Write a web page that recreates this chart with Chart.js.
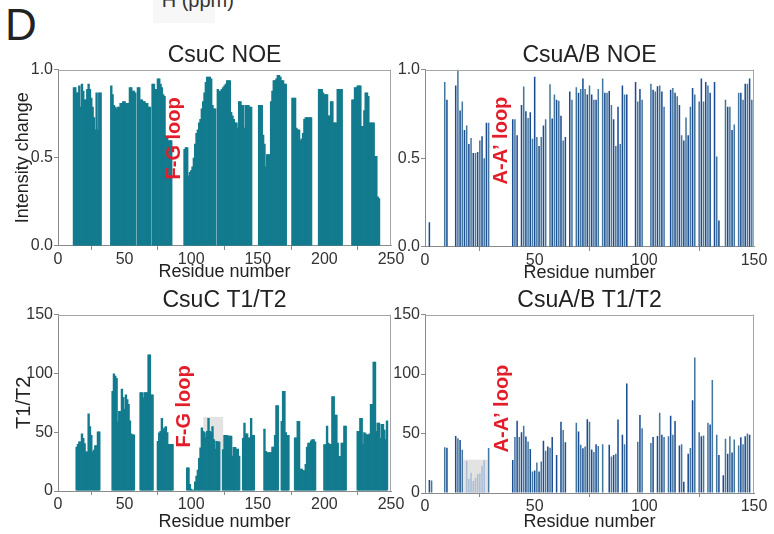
<!DOCTYPE html>
<html>
<head>
<meta charset="utf-8">
<script src="https://cdn.jsdelivr.net/npm/chart.js@4.4.1/dist/chart.umd.min.js"></script>
<style>
  body { margin: 0; background: #fff; width: 774px; height: 534px; overflow: hidden; position: relative;
         font-family: "Liberation Sans", Arial, sans-serif; }
  canvas { position: absolute; left: 0; top: 0; }
  #letter { position: absolute; left: 5px; top: 3px; font-size: 44px; line-height: 44px; color: #222; }
  #ppm { position: absolute; left: 155px; top: -15px; font-size: 20px; line-height: 20px; color: #333; }
  #ppmbg { position: absolute; left: 153px; top: 0; width: 62px; height: 23px; background: #f7f7f7; }
</style>
</head>
<body>
<div id="ppmbg"></div>
<div id="ppm"><sup style="font-size:12px">1</sup>H (ppm)</div>
<div id="letter">D</div>
<canvas id="csucNoeChart" width="774" height="534"></canvas>
<canvas id="csuabNoeChart" width="774" height="534"></canvas>
<canvas id="csucT1T2Chart" width="774" height="534"></canvas>
<canvas id="csuabT1T2Chart" width="774" height="534"></canvas>
<script>
// NMR relaxation bar panels: NOE intensity change and T1/T2 per residue

const FONT = '"Liberation Sans", Arial, sans-serif';

// CsuC heteronuclear NOE, residues 12..241 (null = not assigned)
const csucNoeStart = 12;
const csucNoe = [
  0.90, 0.90, 0.87, 0.87, 0.91, 0.79, 0.92, 0.88, 0.83, 0.83,   // 12
  0.89, 0.92, 0.89, 0.84, 0.79, 0.73, 0.66, 0.87, 0.66, 0.87,   // 22
  0.87, null, null, null, null, null, null, null, 0.91, 0.86,   // 32
  0.80, 0.79, 0.78, 0.79, 0.79, 0.81, 0.81, 0.82, 0.82, 0.81,   // 42
  0.81, 0.81, 0.90, 0.90, 0.88, 0.88, 0.87, null, 0.90, 0.90,   // 52
  0.83, 0.83, 0.82, 0.82, 0.81, 0.81, 0.79, 0.79, null, 0.92,   // 62
  0.92, 0.89, 0.89, 0.95, 0.95, 0.92, 0.90, 0.86, 0.85, 0.62,   // 72
  0.62, 0.60, 0.60, 0.60, null, null, null, null, null, null,   // 82
  null, null, null, 0.55, 0.56, 0.56, 0.40, 0.42, 0.43, 0.45,   // 92
  0.50, 0.58, 0.64, 0.66, 0.70, 0.72, 0.78, 0.82, 0.87, 0.93,   // 102
  0.96, 0.96, 0.96, 0.95, 0.80, 0.78, 0.78, null, 0.89, 0.88,   // 112
  0.88, 0.89, 0.90, 0.91, 0.92, 0.94, 0.94, 0.94, 0.76, 0.74,   // 122
  0.72, 0.70, 0.70, 0.67, 0.82, 0.82, 0.80, 0.80, 0.67, 0.80,   // 132
  0.80, 0.80, 0.79, 0.79, null, null, null, null, null, 0.80,   // 142
  0.80, 0.80, 0.63, 0.58, 0.45, 0.52, 0.52, 0.52, 0.82, 0.88,   // 152
  0.94, 0.94, 0.95, 0.97, 0.97, 0.96, 0.94, 0.94, 0.92, 0.92,   // 162
  null, null, null, null, 0.84, 0.84, 0.84, 0.67, 0.66, 0.66,   // 172
  0.60, 0.61, 0.64, 0.72, 0.73, 0.73, 0.73, 0.73, 0.73, null,   // 182
  null, null, null, null, 0.89, 0.89, 0.89, 0.87, 0.86, 0.86,   // 192
  0.86, 0.74, 0.74, 0.82, 0.82, 0.70, 0.70, 0.70, 0.89, 0.89,   // 202
  0.89, 0.89, null, null, null, null, null, null, null, 0.83,   // 212
  0.83, 0.90, 0.90, 0.91, 0.91, 0.91, 0.68, 0.68, 0.77, 0.87,   // 222
  0.87, 0.85, 0.70, 0.70, 0.70, 0.70, 0.51, 0.51, 0.28, 0.27    // 232
];

// CsuA/B heteronuclear NOE, residues 2..149
const csuabNoeStart = 2;
const csuabNoe = [
  0.14, null, null, null, null, null, null, 0.93, 0.83, null,        // 2
  null, null, 0.91, 1.00, 0.77, 0.82, 0.66, 0.685, 0.58, 0.615,      // 12
  0.53, 0.53, 0.535, 0.60, 0.625, 0.50, 0.70, 0.70, null, null,      // 22
  null, null, null, null, null, null, null, null, 0.72, 0.72,        // 32
  0.63, null, 0.80, 0.905, 0.765, 0.727, 0.76, 0.61, 0.96, 0.62,     // 42
  0.57, 0.62, 0.685, 0.72, null, 0.917, 0.725, 0.86, 0.83, 0.825,    // 52
  0.74, 0.60, 0.62, null, 0.877, 0.83, null, 0.90, 0.87, 0.89,       // 62
  0.95, 0.89, 0.86, 0.91, 0.86, 0.83, 0.83, 0.89, null, 0.95,        // 72
  0.87, 0.87, 0.88, 0.80, 0.72, 0.57, 0.79, 0.58, 0.91, 0.86,        // 82
  0.86, null, null, null, 0.93, 0.82, 0.89, 0.83, null, null,        // 92
  null, 0.92, 0.887, 0.877, 0.906, 0.91, 0.877, 0.79, null, null,    // 102
  0.886, 0.896, 0.87, 0.85, 0.80, 0.63, 0.60, 0.73, 0.63, 0.79,      // 112
  0.896, 0.86, null, 0.82, 0.95, 0.82, 0.93, 0.91, 0.87, null,       // 122
  0.93, 0.51, 0.15, null, null, 0.83, 0.79, 0.79, 0.66, 0.69,        // 132
  null, 0.87, 0.87, 0.83, 0.92, 0.92, 0.95, 0.83                     // 142
];

// CsuC T1/T2, residues 14..247
const csucT1T2Start = 14;
const csucT1T2 = [
  37.7, 40, 42, 42, 49, 45, 40.5, 33.5, 33.5, 66,              // 14
  55, 47.6, 33.4, 35, 39, 39, 50.5, 50.5, null, null,          // 24
  null, null, null, null, null, null, null, 85, 100, 98,       // 34
  96, 59, 68, 68, 87, 80, 70, 82, 78, 74,                      // 44
  60, 49, 48, 48, null, null, null, null, 84, 84,              // 54
  79.5, 84, 84, 84, 116, 116, 82, 82, null, null,              // 64
  null, 42.6, 49.7, 51, 62, 52.5, 54, 55, 50, 40,              // 74
  40, 40, 40, null, null, null, null, null, null, null,        // 84
  null, null, null, 20, 20, 6, 2, 1, 1, 8,                     // 94
  13, 18, 28, 37, 54, 51, 50, 45.5, 51, 62,                    // 104
  51, 50, 55, 44, 36, 42.6, 42, 42, null, null,                // 114
  35.5, 47.6, 47.6, 47.6, 47, 47, 47, 30, 37.5, 37.5,          // 124
  36, 36, 30, null, null, 45, 58, 49, 49, 45.5,                // 134
  45.5, 62, 47.6, 47.6, null, null, null, null, null, null,    // 144
  null, 53, 34, 33, 33, 33, 33, 37.7, 37.7, 47.6,              // 154
  73, 73, null, null, 59.6, 85, 85, 50, 47.6, 47.6,            // 164
  null, null, null, null, 45.5, 45.5, 59.6, 59.6, 19, 19,      // 174
  17.6, 17.6, 23, 37.7, 41, 41, 43, 44, 44, 42,                // 184
  null, null, null, null, null, null, 39.8, 39.8, 55.4, 41,    // 194
  40, 40, 80.6, 80.6, 64.8, 64.8, 41, 29.8, 29.8, 41,          // 204
  41, 55.4, 55.4, null, null, null, null, null, null, null,    // 214
  null, 51, 51, 62, 62, 40, 50, 49, 48, 48,                    // 224
  49, 74, 74, 110, 110, 51, 58, 58, 45, 57,                    // 234
  57, 52, 44, 60                                               // 244
];

// CsuA/B T1/T2, residues 2..148
const csuabT1T2Start = 2;
const csuabT1T2 = [
  11, 10.5, null, null, null, null, null, 38.5, 38, null,      // 2
  null, null, 48, 46, 44.6, 36.3, null, 27, 12, 17,            // 12
  10, 12.6, 16, 16.3, 23, 27.5, null, 37.8, null, null,        // 22
  null, null, null, null, null, null, null, null, 27.7, 47,    // 32
  60.8, 47, 51, 56.6, 47.6, 43.4, 37, 18, 19, 25.6,            // 42
  18, 26.4, 44, 35.5, 39, 38, 47, null, 32, null,              // 52
  60, 53, 42.6, null, null, null, null, 59, 51.7, 40.5,        // 62
  37.7, 39, 62, 60, 36.5, 34.5, 41, 39.6, null, 41,            // 72
  null, null, 40.5, 30.7, 32, 33, 61.7, null, 49, 41,          // 82
  92, null, null, null, null, 43, 65.6, 54.4, null, null,      // 92
  null, 42, 47, null, 48, 67.4, 49, 47, null, 47.8,            // 102
  65, 49, 60.5, null, 40, 41, 9.5, null, 33, 37.8,             // 112
  78, 114, null, 51, 47.8, 48.4, null, 59, 57.5, 95,           // 122
  null, 49, 32, null, 15, 45.6, 33, 47.8, 34, 45,              // 132
  null, 40, 46.8, 41, 47.8, 50, 49                             // 142
];
// residues of the CsuA/B T1/T2 shaded segment drawn in a pale colour
const csuabFadedFrom = 19;
const csuabFadedTo = 27;

// shaded boxes [from residue, to residue, height]
const csucT1T2Shade = [109, 124, 63];
const csuabT1T2Shade = [17.5, 28.5, 28];

function toPoints(start, values) {
  const pts = [];
  values.forEach((v, i) => { if (v !== null) pts.push({ x: start + i, y: v }); });
  return pts;
}

// frame, shaded box and loop label
const decor = {
  id: 'decor',
  beforeDatasetsDraw(chart, args, o) {
    if (!o.shade) return;
    const { ctx, scales: { x, y } } = chart;
    const x0 = x.getPixelForValue(o.shade[0]);
    const x1 = x.getPixelForValue(o.shade[1]);
    const yt = y.getPixelForValue(o.shade[2]);
    const yb = y.getPixelForValue(0);
    ctx.save();
    ctx.fillStyle = '#e3e3e3';
    ctx.fillRect(x0, yt, x1 - x0, yb - yt);
    ctx.restore();
  },
  afterDraw(chart, args, o) {
    const { ctx, chartArea: a, scales: { x, y } } = chart;
    ctx.save();
    ctx.strokeStyle = '#a6a6a6';
    ctx.lineWidth = 1;
    ctx.beginPath();
    ctx.moveTo(a.left, Math.round(a.top) + 0.5);
    ctx.lineTo(a.right, Math.round(a.top) + 0.5);
    ctx.moveTo(Math.round(a.right) - 0.5, a.top);
    ctx.lineTo(Math.round(a.right) - 0.5, a.bottom);
    ctx.stroke();
    ctx.translate(x.getPixelForValue(o.loop[0]), y.getPixelForValue(o.loop[1]));
    ctx.rotate(-Math.PI / 2);
    ctx.font = 'bold 20px ' + FONT;
    ctx.fillStyle = '#e31e2a';
    ctx.textAlign = 'center';
    ctx.textBaseline = 'middle';
    ctx.fillText(o.loopText, 0, 0);
    ctx.restore();
  }
};

function makePanel(id, p) {
  const axisColor = '#8a8a8a';
  return new Chart(document.getElementById(id), {
    type: 'bar',
    data: {
      datasets: [{
        data: p.points,
        backgroundColor: p.colors,
        barPercentage: p.barPct,
        categoryPercentage: 1,
        borderWidth: 0
      }]
    },
    options: {
      responsive: false,
      animation: false,
      layout: { padding: p.pad },
      plugins: {
        legend: { display: false },
        tooltip: { enabled: false },
        title: {
          display: true,
          text: p.title,
          fullSize: false,
          color: '#222',
          font: { family: FONT, size: 23, weight: 'normal' },
          padding: { top: 13, bottom: 0 }
        },
        decor: { shade: p.shade, loop: p.loop, loopText: p.loopText }
      },
      scales: {
        x: {
          type: 'linear',
          min: 0,
          max: p.xMax,
          offset: false,
          ticks: { stepSize: 50, color: '#333', font: { family: FONT, size: 16 }, padding: 0, maxRotation: 0 },
          grid: { drawOnChartArea: false, tickLength: 4, color: axisColor },
          border: { color: axisColor },
          title: {
            display: true,
            text: 'Residue number',
            color: '#222',
            font: { family: FONT, size: 18 },
            padding: { top: 0, bottom: p.xTitlePad }
          },
          afterFit: s => { s.height = p.xHeight; }
        },
        y: {
          min: 0,
          max: p.yMax,
          ticks: {
            stepSize: p.yStep,
            color: '#333',
            font: { family: FONT, size: 16 },
            padding: 1,
            callback: v => (p.yMax === 1 ? v.toFixed(1) : v)
          },
          grid: { drawOnChartArea: false, tickLength: 4, color: axisColor },
          border: { color: axisColor },
          title: {
            display: !!p.yTitle,
            text: p.yTitle || '',
            color: '#222',
            font: { family: FONT, size: p.yTitleSize || 18 },
            padding: { top: 12, bottom: 0 }
          },
          afterFit: s => { s.width = p.yWidth; }
        }
      }
    },
    plugins: [decor]
  });
}

const TEAL = '#137b8e';
const blueFor = r => (r % 2 === 0 ? '#1c4d92' : '#44779e');

const csucNoePts = toPoints(csucNoeStart, csucNoe);
const csuabNoePts = toPoints(csuabNoeStart, csuabNoe);
const csucT1T2Pts = toPoints(csucT1T2Start, csucT1T2);
const csuabT1T2Pts = toPoints(csuabT1T2Start, csuabT1T2);

// wide overlapping bars so neighbouring residues merge without seams
makePanel('csucNoeChart', {
  title: 'CsuC NOE', points: csucNoePts, colors: TEAL, barPct: 1.8,
  xMax: 250, yMax: 1, yStep: 0.5, yTitle: 'Intensity change', yWidth: 58,
  pad: { left: 0, right: 383, top: 29, bottom: 244 }, xHeight: 44, xTitlePad: 7,
  loop: [87.8, 0.61], loopText: 'F-G loop'
});

makePanel('csuabNoeChart', {
  title: 'CsuA/B NOE', points: csuabNoePts, colors: csuabNoePts.map(d => blueFor(d.x)), barPct: 0.7,
  xMax: 150, yMax: 1, yStep: 0.5, yWidth: 45,
  pad: { left: 380, right: 20, top: 29, bottom: 243 }, xHeight: 44, xTitlePad: 7,
  loop: [34.7, 0.60], loopText: 'A-A\u2019 loop'
});

makePanel('csucT1T2Chart', {
  title: 'CsuC T1/T2', points: csucT1T2Pts, colors: TEAL, barPct: 1.8,
  xMax: 250, yMax: 150, yStep: 50, yTitle: 'T1/T2', yTitleSize: 20, yWidth: 58,
  pad: { left: 0, right: 383, top: 274, bottom: 0 }, xHeight: 43, xTitlePad: 1,
  shade: csucT1T2Shade, loop: [94.6, 72], loopText: 'F-G loop'
});

makePanel('csuabT1T2Chart', {
  title: 'CsuA/B T1/T2', points: csuabT1T2Pts,
  colors: csuabT1T2Pts.map(d => (d.x >= csuabFadedFrom && d.x <= csuabFadedTo ? '#a9bdd8' : blueFor(d.x))),
  barPct: 0.7,
  xMax: 150, yMax: 150, yStep: 50, yWidth: 45,
  pad: { left: 380, right: 20, top: 274, bottom: 0 }, xHeight: 41, xTitlePad: 1,
  shade: csuabT1T2Shade, loop: [35.1, 71], loopText: 'A-A\u2019 loop'
});
</script>
</body>
</html>
